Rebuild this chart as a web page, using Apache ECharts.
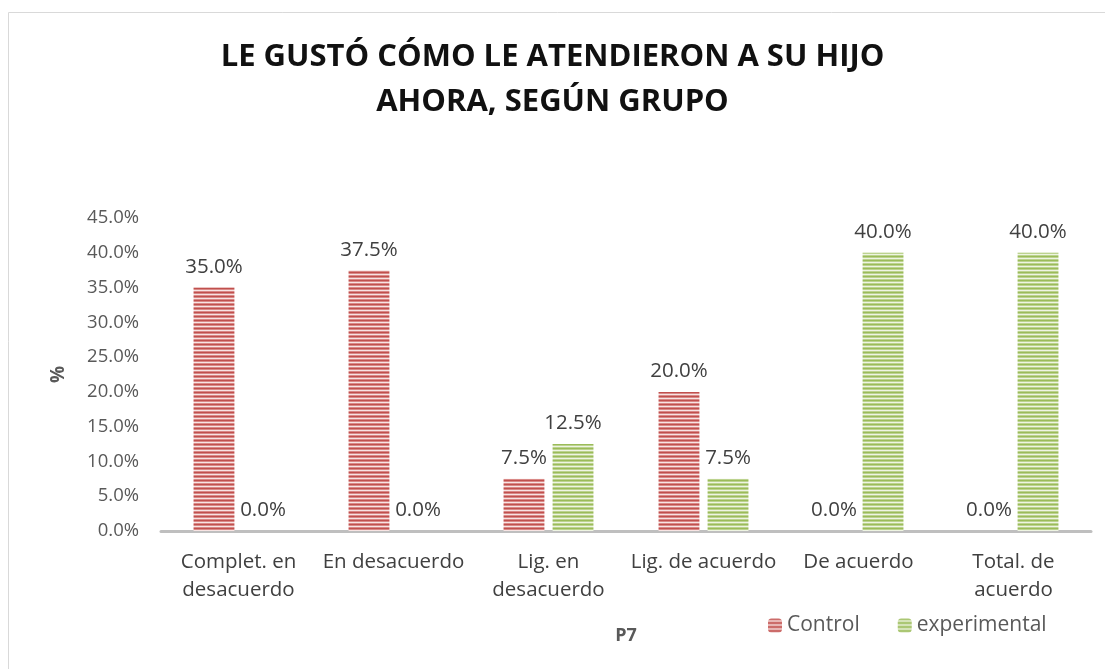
<!DOCTYPE html>
<html>
<head>
<meta charset="utf-8">
<script src="https://cdn.jsdelivr.net/npm/echarts@6/dist/echarts.min.js"></script>
<style>
  html, body { margin: 0; padding: 0; background: #fff; }
  #chart { width: 1105px; height: 669px; }
</style>
</head>
<body>
<div id="chart"></div>
<script>
// data
const categories = ['Complet. en\ndesacuerdo', 'En desacuerdo', 'Lig. en\ndesacuerdo', 'Lig. de acuerdo', 'De acuerdo', 'Total. de\nacuerdo'];
const controlValues = [35.0, 37.5, 7.5, 20.0, 0.0, 0.0];
const experimentalValues = [0.0, 0.0, 12.5, 7.5, 40.0, 40.0];
const yTicks = { min: 0, max: 45, interval: 5 };

// striped fill like the Excel pattern
function stripes(dark, mid, light) {
  const c = document.createElement('canvas');
  c.width = 4;
  c.height = 4;
  const ctx = c.getContext('2d');
  const rows = [dark, mid, light, mid];
  rows.forEach((col, i) => {
    ctx.fillStyle = col;
    ctx.fillRect(0, i, 4, 1);
  });
  return { image: c, repeat: 'repeat' };
}

const redFill = stripes('#c0504d', '#d98987', '#f7e4e3');
const greenFill = stripes('#9bbb59', '#bcd38f', '#eef4e2');

const font = "'Open Sans', sans-serif";

const chart = echarts.init(document.getElementById('chart'));
chart.setOption({
  animation: false,
  textStyle: { fontFamily: font },
  title: {
    text: 'LE GUSTÓ CÓMO LE ATENDIERON A SU HIJO\nAHORA, SEGÚN GRUPO',
    left: 'center',
    top: 30,
    textStyle: {
      fontFamily: font,
      fontSize: 31,
      fontWeight: 'bold',
      color: '#111',
      lineHeight: 45
    }
  },
  graphic: [
    {
      type: 'rect',
      shape: { x: 8.5, y: 12.5, width: 1110, height: 680 },
      style: { fill: 'none', stroke: '#d9d9d9', lineWidth: 1 },
      silent: true
    }
  ],
  legend: {
    left: 763,
    top: 610,
    itemWidth: 14,
    itemHeight: 14,
    itemGap: 38,
    textStyle: { fontSize: 21, color: '#595959', fontFamily: font },
    data: ['Control', 'experimental']
  },
  grid: {
    left: 161,
    right: 14,
    top: 218,
    bottom: 138
  },
  xAxis: {
    type: 'category',
    data: categories,
    name: 'P7',
    nameLocation: 'middle',
    nameGap: 96,
    nameTextStyle: { fontSize: 18, fontWeight: 'bold', color: '#595959' },
    axisLine: { lineStyle: { color: '#bfbfbf', width: 3 } },
    axisTick: { show: false },
    axisLabel: {
      fontSize: 20.5,
      color: '#404040',
      lineHeight: 28,
      margin: 17,
      interval: 0
    }
  },
  yAxis: {
    type: 'value',
    min: yTicks.min,
    max: yTicks.max,
    interval: yTicks.interval,
    name: '%',
    nameLocation: 'middle',
    nameGap: 93,
    nameRotate: 90,
    nameTextStyle: { fontSize: 19, fontWeight: 'bold', color: '#595959' },
    axisLine: { show: false },
    axisTick: { show: false },
    splitLine: { show: false },
    axisLabel: {
      fontSize: 18.5,
      color: '#595959',
      margin: 22,
      formatter: v => v.toFixed(1) + '%'
    }
  },
  series: [
    {
      name: 'Control',
      type: 'bar',
      data: controlValues,
      barGap: '20%',
      barCategoryGap: '42%',
      itemStyle: { color: redFill },
      label: {
        show: true,
        position: 'top',
        distance: 10,
        fontSize: 20.5,
        color: '#404040',
        formatter: p => p.value.toFixed(1) + '%'
      }
    },
    {
      name: 'experimental',
      type: 'bar',
      data: experimentalValues,
      itemStyle: { color: greenFill },
      label: {
        show: true,
        position: 'top',
        distance: 10,
        fontSize: 20.5,
        color: '#404040',
        formatter: p => p.value.toFixed(1) + '%'
      }
    }
  ]
});
</script>
</body>
</html>
